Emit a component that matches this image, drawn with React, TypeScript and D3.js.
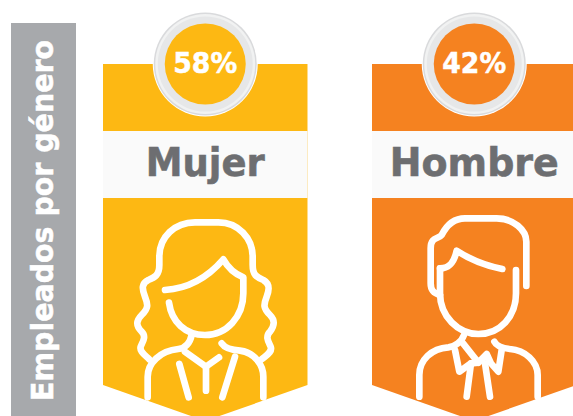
import React from "react";
import * as d3 from "d3";

const categories = ["Mujer", "Hombre"];
const shares = [58, 42];
const fills = ["#FDB813", "#F58220"];
const title = "Empleados por género";
const textWidths = [119, 169];

const W = 573, H = 416;
const FONT = "'DejaVu Sans', sans-serif";
const GREY = "#6D6E71";

const womanPaths = [
  "M148,478 C135,465 118,455 122,440 C128,425 140,410 125,395 C105,375 110,360 125,345 C145,325 145,315 135,290 C125,265 125,250 145,240 C165,232 178,225 178,195 L178,170 C178,110 225,67 285,67 L355,67 C415,67 458,115 458,170 L458,195 C458,225 470,232 490,240 C508,250 510,265 500,290 C490,315 490,325 510,345 C525,360 525,375 510,395 C495,410 505,425 512,440 C518,455 500,465 485,478",
  "M195,270 C270,265 325,230 370,178 C385,205 405,222 430,232 L430,280 C430,350 380,405 315,405 C255,405 215,365 207,308",
  "M143,592 L143,530 C143,490 180,452 235,447 C255,445 270,430 275,405",
  "M255,455 L318,500 L357,472",
  "M318,500 L318,572",
  "M238,492 L266,592",
  "M405,470 L367,592",
  "M365,430 C375,445 395,450 420,452 C465,458 490,495 490,530 L490,592",
];
const manPaths = [
  "M484,258 L484,125 C484,90 445,55 395,55 L300,55 C265,55 245,75 230,105 C220,118 197,110 197,145 L197,250 C197,270 205,280 225,285",
  "M225,205 C255,205 268,185 275,152 C310,175 360,197 412,207",
  "M225,205 L225,280 C225,350 280,402 340,402 C405,402 453,350 453,280 L453,210",
  "M163,590 L163,525 C163,480 200,445 250,442 C270,440 290,425 297,405",
  "M388,425 C395,440 415,445 435,447 C480,450 518,485 518,525 L518,590",
  "M290,425 L340,488 L365,462 L378,490 L400,515 L410,450",
  "M270,450 L283,515 L318,490 L340,488",
  "M318,490 L305,590",
  "M360,490 L375,590",
];
const icons = [womanPaths, manPaths];
const iconOrigins = [[100, 200], [365, 200]];

const x = d3.scaleBand<string>().domain(categories).range([103, 576.5]).paddingInner(0.2398).paddingOuter(0);
const pct = d3.format(".0f");

export default function App() {
  const bw = x.bandwidth();
  const banner = d3.line();
  return (
    <svg width={W} height={H} viewBox={`0 0 ${W} ${H}`} style={{ position: "absolute", left: 0, top: 0, background: "#fff" }}>
      <rect x={11} y={23} width={65} height={393} fill="#A7A9AC" />
      <text transform="translate(53,401) rotate(-90)" fill="#fff" stroke="#fff" strokeWidth={0.5} fontFamily={FONT} fontWeight={700} fontSize={29.5} textLength={361} lengthAdjust="spacingAndGlyphs">{title}</text>
      {categories.map((c, i) => {
        const x0 = x(c)!;
        const cx = x0 + bw / 2;
        return (
          <g key={c}>
            <path d={banner([[x0, 64], [x0 + bw, 64], [x0 + bw, 385], [cx, 421], [x0, 385]])! + "Z"} fill={fills[i]} />
            <rect x={x0} y={131} width={bw} height={67} fill="#FAFAFA" />
            <text x={cx} y={176} textAnchor="middle" fill={GREY} stroke={GREY} strokeWidth={0.6} fontFamily={FONT} fontWeight={700} fontSize={39} textLength={textWidths[i]} lengthAdjust="spacingAndGlyphs">{c}</text>
            <circle cx={cx} cy={64} r={52.5} fill="#fff" />
            <circle cx={cx} cy={64} r={51.5} fill="#D9DADC" />
            <circle cx={cx} cy={64} r={50} fill="#F1F2F2" />
            <circle cx={cx} cy={64} r={47.5} fill="#E6E7E8" />
            <circle cx={cx} cy={64} r={40.5} fill={fills[i]} />
            <text x={cx} y={73} textAnchor="middle" fill="#fff" stroke="#fff" strokeWidth={0.5} fontFamily={FONT} fontWeight={700} fontSize={29} textLength={64} lengthAdjust="spacingAndGlyphs">{`${pct(shares[i])}%`}</text>
            <g transform={`translate(${iconOrigins[i][0]},${iconOrigins[i][1]}) scale(${1 / 3})`} fill="none" stroke="#fff" strokeWidth={20} strokeLinecap="round" strokeLinejoin="round">
              {icons[i].map((d, k) => <path key={k} d={d} />)}
            </g>
          </g>
        );
      })}
    </svg>
  );
}
